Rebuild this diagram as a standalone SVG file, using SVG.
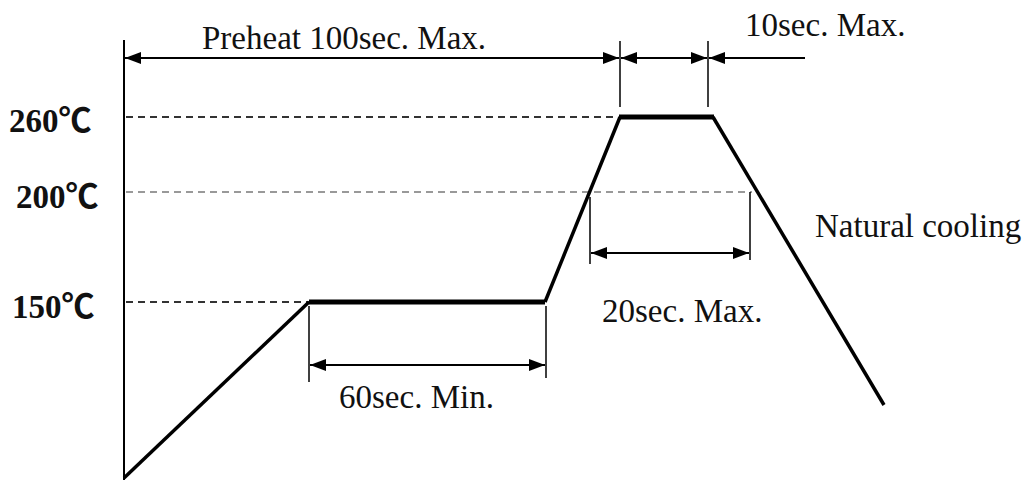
<svg xmlns="http://www.w3.org/2000/svg" width="1028" height="480" viewBox="0 0 1028 480">
<style>
.t{font-family:"Liberation Serif","Times New Roman","Noto Sans CJK SC",serif;font-size:33px;fill:#111}
.b{font-weight:bold}
.dim{stroke:#000;stroke-width:2;fill:none}
.tick{stroke:#000;stroke-width:1.5;fill:none}
.prof{stroke:#000;stroke-width:3.5;fill:none;stroke-linejoin:miter}
.flat{stroke:#000;stroke-width:5;fill:none}
.dash{stroke:#333;stroke-width:2;stroke-dasharray:7 5;fill:none}
.dashg{stroke:#999;stroke-width:2;stroke-dasharray:7 5;fill:none}
</style>
<defs>
<marker id="ah" viewBox="0 0 16 12" refX="16" refY="6" markerWidth="16" markerHeight="12" markerUnits="userSpaceOnUse" orient="auto-start-reverse">
<path d="M0,0 L16,6 L0,12 Z" fill="#000"/>
</marker>
</defs>
<rect width="1028" height="480" fill="#fff"/>
<g id="guides">
<line class="dash" x1="126" y1="117" x2="618" y2="117"/>
<line class="dashg" x1="126" y1="192" x2="752" y2="192"/>
<line class="dash" x1="126" y1="302" x2="309" y2="302"/>
</g>
<g id="axis">
<line x1="124" y1="40" x2="124" y2="480" stroke="#000" stroke-width="2"/>
</g>
<g id="profile">
<polyline class="prof" points="124,478 309,302"/>
<line class="flat" x1="309" y1="302" x2="545" y2="302"/>
<polyline class="prof" points="545,302 620,117"/>
<line class="flat" x1="619" y1="117" x2="714" y2="117"/>
<polyline class="prof" points="713,117 884,405"/>
</g>
<g id="ticks">
<line class="tick" x1="620" y1="41" x2="620" y2="107"/>
<line class="tick" x1="708" y1="41" x2="708" y2="107"/>
<line class="tick" x1="590" y1="197" x2="590" y2="264"/>
<line class="tick" x1="750" y1="192" x2="750" y2="260"/>
<line class="tick" x1="309" y1="306" x2="309" y2="382"/>
<line class="tick" x1="546" y1="306" x2="546" y2="378"/>
</g>
<g id="connectors">
<line class="dim" x1="125" y1="58" x2="619" y2="58" marker-start="url(#ah)" marker-end="url(#ah)"/>
<line class="dim" x1="621" y1="58" x2="707" y2="58" marker-start="url(#ah)" marker-end="url(#ah)"/>
<line class="dim" x1="805" y1="58" x2="709" y2="58" marker-end="url(#ah)"/>
<line class="dim" x1="591" y1="253" x2="749" y2="253" marker-start="url(#ah)" marker-end="url(#ah)"/>
<line class="dim" x1="310" y1="365" x2="545" y2="365" marker-start="url(#ah)" marker-end="url(#ah)"/>
</g>
<g id="labels">
<text class="t" x="202" y="49">Preheat 100sec. Max.</text>
<text class="t" x="745" y="36">10sec. Max.</text>
<text class="t b" x="9" y="132">260℃</text>
<text class="t b" x="16" y="208">200℃</text>
<text class="t b" x="12" y="318">150℃</text>
<text class="t" x="815" y="237">Natural cooling</text>
<text class="t" x="602" y="322">20sec. Max.</text>
<text class="t" x="339" y="408">60sec. Min.</text>
</g>
</svg>
